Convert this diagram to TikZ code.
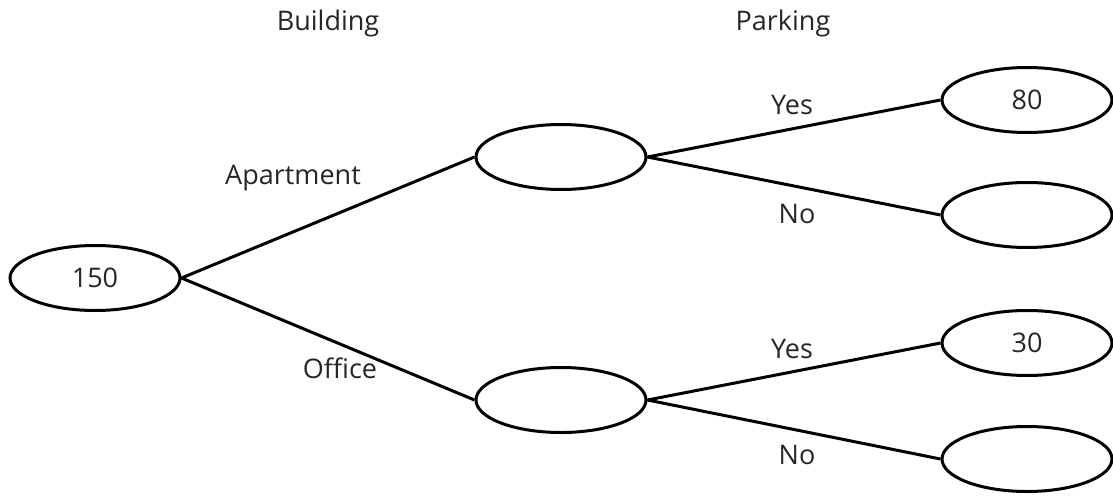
\documentclass[tikz,border=0pt]{standalone}
\usepackage{fontspec}
\setmainfont{Open Sans}
\usetikzlibrary{shapes.geometric}
\begin{document}
\begin{tikzpicture}[x=1pt,y=-1pt,
  oval/.style={ellipse,draw,line width=3pt,minimum width=170pt,minimum height=65pt,inner sep=0pt,font=\fontsize{27}{32}\selectfont,text=black!85},
  lbl/.style={font=\fontsize{27}{32}\selectfont,text=black!85,inner sep=0pt},
  edge/.style={line width=3pt}]
\useasboundingbox (0,0) rectangle (1113,495);
\node[oval] (root) at (95,278) {150};
\node[oval] (apt) at (561,157) {};
\node[oval] (off) at (561,400) {};
\node[oval] (a1) at (1027,100) {80};
\node[oval] (a2) at (1027,215) {};
\node[oval] (o1) at (1027,343) {30};
\node[oval] (o2) at (1027,459) {};
\draw[edge] (root.east) -- (apt.west);
\draw[edge] (root.east) -- (off.west);
\draw[edge] (apt.east) -- (a1.west);
\draw[edge] (apt.east) -- (a2.west);
\draw[edge] (off.east) -- (o1.west);
\draw[edge] (off.east) -- (o2.west);
\node[lbl] (hb) at (328,23) {Building};
\node[lbl] (hp) at (783,23) {Parking};
\node[lbl] (la) at (293,178) {Apartment};
\node[lbl] (lo) at (340,368) {Office};
\node[lbl] (ly1) at (792,105) {Yes};
\node[lbl] (ln1) at (797,214) {No};
\node[lbl] (ly2) at (792,349) {Yes};
\node[lbl] (ln2) at (797,455) {No};
\end{tikzpicture}
\end{document}
